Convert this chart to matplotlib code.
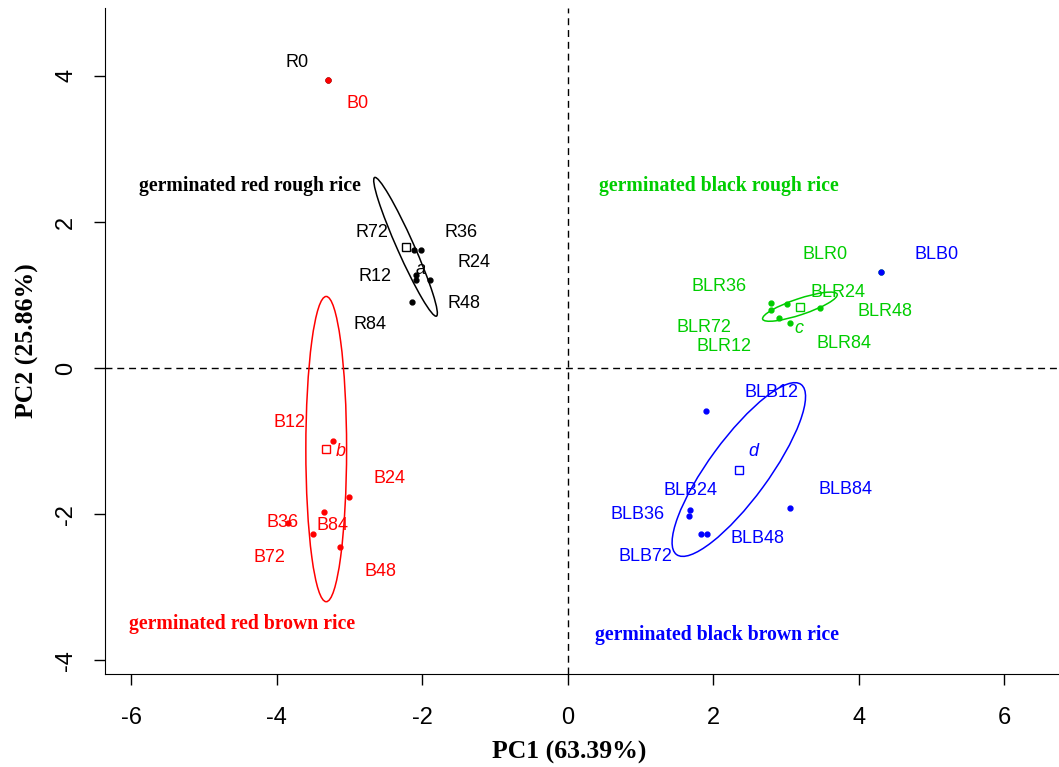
import matplotlib
matplotlib.use('Agg')
from matplotlib import pyplot as plt
from matplotlib.patches import Ellipse

plt.rcParams['axes.unicode_minus'] = False

# PCA scores per group (first entry is the 0 h sample)
r_names = ['R0', 'R12', 'R24', 'R36', 'R48', 'R72', 'R84']
r_x = [-3.30, -2.08, -2.09, -2.02, -1.89, -2.11, -2.14]
r_y = [3.95, 1.27, 1.21, 1.61, 1.20, 1.61, 0.90]
r_lx = [-3.72, -2.65, -1.29, -1.47, -1.43, -2.69, -2.72]
r_ly = [4.19, 1.25, 1.44, 1.85, 0.89, 1.86, 0.59]

b_names = ['B0', 'B12', 'B24', 'B36', 'B48', 'B72', 'B84']
b_x = [-3.30, -3.23, -3.01, -3.85, -3.13, -3.50, -3.35]
b_y = [3.95, -1.00, -1.76, -2.12, -2.45, -2.27, -1.97]
b_lx = [-2.89, -3.82, -2.45, -3.92, -2.57, -4.10, -3.23]
b_ly = [3.62, -0.74, -1.51, -2.11, -2.78, -2.59, -2.16]

blr_names = ['BLR0', 'BLR12', 'BLR24', 'BLR36', 'BLR48', 'BLR72', 'BLR84']
blr_x = [4.30, 2.79, 3.46, 2.79, 3.01, 2.90, 3.06]
blr_y = [1.32, 0.79, 0.82, 0.89, 0.87, 0.68, 0.61]
blr_lx = [3.53, 2.14, 3.71, 2.08, 4.36, 1.87, 3.79]
blr_ly = [1.56, 0.29, 1.04, 1.12, 0.78, 0.56, 0.34]

blb_names = ['BLB0', 'BLB12', 'BLB24', 'BLB36', 'BLB48', 'BLB72', 'BLB84']
blb_x = [4.30, 1.90, 1.68, 1.66, 1.91, 1.83, 3.05]
blb_y = [1.32, -0.59, -1.94, -2.02, -2.27, -2.27, -1.92]
blb_lx = [5.07, 2.80, 1.68, 0.96, 2.60, 1.07, 3.81]
blb_ly = [1.56, -0.34, -1.68, -2.01, -2.33, -2.58, -1.67]

# group centres, ellipse axes (full width/height) and tilt in degrees
cen_x = [-2.23, -3.32, 3.19, 2.35]
cen_y = [1.66, -1.11, 0.84, -1.39]
ell_w = [2.08, 4.18, 1.08, 2.89]
ell_h = [0.23, 0.56, 0.22, 0.82]
ell_ang = [-65.9, 90.0, 18.4, 53.7]
grp_letter = ['a', 'b', 'c', 'd']
let_x = [-2.02, -3.12, 3.18, 2.55]
let_y = [1.35, -1.15, 0.54, -1.15]

grp_title = ['germinated red rough rice', 'germinated red brown rice',
             'germinated black rough rice', 'germinated black brown rice']
title_x = [-4.37, -4.47, 2.08, 2.05]
title_y = [2.49, -3.51, 2.49, -3.66]

cols = ['black', 'red', '#00CD00', 'blue']
groups = [(r_names, r_x, r_y, r_lx, r_ly),
          (b_names, b_x, b_y, b_lx, b_ly),
          (blr_names, blr_x, blr_y, blr_lx, blr_ly),
          (blb_names, blb_x, blb_y, blb_lx, blb_ly)]

fig = plt.figure(figsize=(10.59, 7.67), dpi=100)
ax = fig.add_axes([105/1059, 93/767, 954/1059, 666/767])

ax.axhline(0, color='black', lw=1, ls=(0, (5, 3.5)), zorder=1)
ax.axvline(0, color='black', lw=1, ls=(0, (5, 3.5)), zorder=1)

for i, (names, xs, ys, lxs, lys) in enumerate(groups):
    c = cols[i]
    ax.plot(xs, ys, 'o', color=c, ms=3.5, zorder=3 + i)
    for n, lx, ly in zip(names, lxs, lys):
        ax.text(lx, ly, n, color=c, fontsize=13, ha='center', va='center',
                family='Liberation Sans')
    ax.add_patch(Ellipse((cen_x[i], cen_y[i]), ell_w[i], ell_h[i], angle=ell_ang[i],
                         fill=False, ec=c, lw=1.1, zorder=3))
    ax.plot(cen_x[i], cen_y[i], 's', mfc='none', mec=c, ms=6, mew=1, zorder=3)
    ax.text(let_x[i], let_y[i], grp_letter[i], color=c, fontsize=13, style='italic',
            ha='center', va='center', family='Liberation Sans')
    ax.text(title_x[i], title_y[i], grp_title[i], color=c, fontsize=14.2, weight='bold',
            ha='center', va='center', family='Liberation Serif')

ax.set_xlim(-6.36, 6.75)
ax.set_ylim(-4.19, 4.93)
ax.set_xticks([-6, -4, -2, 0, 2, 4, 6])
ax.set_yticks([-4, -2, 0, 2, 4])
ax.spines['top'].set_visible(False)
ax.spines['right'].set_visible(False)
ax.tick_params(length=8, width=1, labelsize=17)
ax.tick_params(axis='x', pad=16)
ax.tick_params(axis='y', pad=12)
for lab in ax.get_yticklabels():
    lab.set_rotation(90)
    lab.set_va('center')
for lab in ax.get_xticklabels() + ax.get_yticklabels():
    lab.set_family('Liberation Sans')

ax.set_xlabel('PC1 (63.39%)', fontsize=18.5, weight='bold', family='Liberation Serif')
ax.set_ylabel('PC2 (25.86%)', fontsize=18.5, weight='bold', family='Liberation Serif')
ax.xaxis.set_label_coords(0.487, -78/666)
ax.xaxis.label.set_va('center')
ax.yaxis.set_label_coords(-78/954, 0.5)
ax.yaxis.label.set_va('center')

fig.savefig('out.png', dpi=100)
